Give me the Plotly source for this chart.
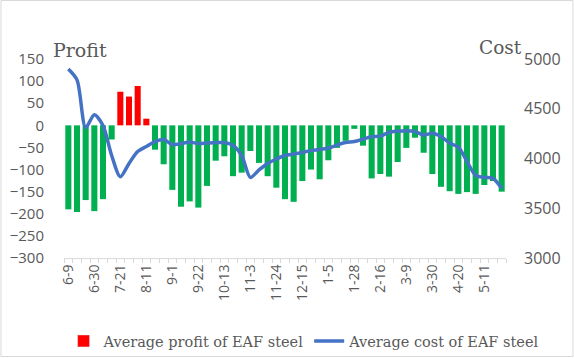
import plotly.graph_objects as go

dates = ["6-9", "6-16", "6-23", "6-30", "7-7", "7-14", "7-21", "7-28", "8-4", "8-11",
         "8-18", "8-25", "9-1", "9-8", "9-15", "9-22", "9-29", "10-6", "10-13", "10-20",
         "10-27", "11-3", "11-10", "11-17", "11-24", "12-1", "12-8", "12-15", "12-22", "12-29",
         "1-5", "1-12", "1-19", "1-28", "2-2", "2-9", "2-16", "2-23", "3-2", "3-9",
         "3-16", "3-23", "3-30", "4-6", "4-13", "4-20", "4-27", "5-4", "5-11", "5-18", "5-25"]

profit = [-190, -196, -169, -194, -167, -32, 76, 65, 89, 15,
          -55, -88, -146, -184, -172, -186, -137, -80, -70, -115,
          -107, -58, -85, -115, -141, -167, -173, -126, -100, -122,
          -79, -51, -35, -8, -46, -120, -110, -116, -83, -51,
          -28, -62, -110, -139, -149, -155, -151, -155, -135, -126, -150]

cost = [4900, 4790, 4310, 4440, 4330, 4030, 3817, 3950, 4070, 4120,
        4170, 4190, 4140, 4150, 4165, 4150, 4155, 4160, 4160, 4130,
        4030, 3810, 3885, 3950, 3995, 4030, 4045, 4060, 4080, 4090,
        4105, 4135, 4160, 4170, 4195, 4220, 4225, 4263, 4275, 4280,
        4270, 4236, 4253, 4220, 4155, 4115, 3970, 3830, 3810, 3800, 3700]

shown_labels = dates[::3]

profit_name = "Average profit of EAF steel"
cost_name = "Average cost of EAF steel"

RED = "#FF0000"
GREEN = "#00B050"
BLUE = "#4472C4"
GRAY = "#595959"

bar_colors = [RED if v >= 0 else GREEN for v in profit]

fig = go.Figure()
fig.add_trace(go.Bar(x=dates, y=profit, marker=dict(color=bar_colors, line=dict(width=0)),
                     showlegend=False, name=profit_name))
fig.add_trace(go.Bar(x=[None], y=[None], marker=dict(color=RED), name=profit_name,
                     showlegend=True))
fig.add_trace(go.Scatter(x=dates, y=cost, yaxis="y2", mode="lines", name=cost_name,
                         line=dict(color=BLUE, width=3.5, shape="spline", smoothing=0.8)))

L, T, W, H = 64, 59, 441.6, 199
fig.update_layout(
    width=574, height=358,
    margin=dict(l=L, r=574 - L - W, t=T, b=358 - T - H, pad=0, autoexpand=False),
    paper_bgcolor="white", plot_bgcolor="white",
    bargap=0.3, barmode="overlay",
    font=dict(family="Open Sans", color=GRAY, size=14),
    xaxis=dict(type="category", categoryorder="array", categoryarray=dates,
               tickmode="array", tickvals=dates,
               ticktext=[d if d in shown_labels else "" for d in dates],
               tickangle=-90, tickson="boundaries", ticks="outside", ticklen=4,
               tickcolor="#d9d9d9", showline=True, linecolor="#d9d9d9",
               showgrid=False, zeroline=False, tickfont=dict(size=14, color=GRAY),
               range=[-0.5, len(dates) - 0.5]),
    yaxis=dict(range=[-300, 150], dtick=50, showgrid=False, zeroline=False,
               showline=False, ticks="", tickfont=dict(size=15, color=GRAY),
               ticklabelstandoff=19),
    yaxis2=dict(range=[3000, 5000], dtick=500, overlaying="y", side="right",
                showgrid=False, zeroline=False, showline=False, ticks="",
                tickfont=dict(size=16, color=GRAY), ticklabelstandoff=17),
    legend=dict(orientation="h", x=-0.001, xanchor="left",
                y=(T + H - 341) / H, yanchor="middle",
                font=dict(family="DejaVu Serif", size=14.5, color=GRAY),
                bgcolor="rgba(0,0,0,0)", itemwidth=30, tracegroupgap=0),
    annotations=[
        dict(text="Profit", xref="paper", yref="paper", x=-0.03, y=1.045,
             xanchor="left", yanchor="middle", showarrow=False,
             font=dict(family="DejaVu Serif", size=19, color=GRAY)),
        dict(text="Cost", xref="paper", yref="paper", x=1.04, y=1.06,
             xanchor="right", yanchor="middle", showarrow=False,
             font=dict(family="DejaVu Serif", size=18.5, color=GRAY)),
    ],
    shapes=[dict(type="rect", xref="paper", yref="paper",
                 x0=(1 - L) / W, x1=(572.5 - L) / W,
                 y0=(T + H - 356.5) / H, y1=(T + H - 0.5) / H,
                 line=dict(color="#d9d9d9", width=1), fillcolor="rgba(0,0,0,0)",
                 layer="below")],
)

fig.write_html("out.html", config={"displayModeBar": False},
               post_script="document.body.style.margin='0';")
